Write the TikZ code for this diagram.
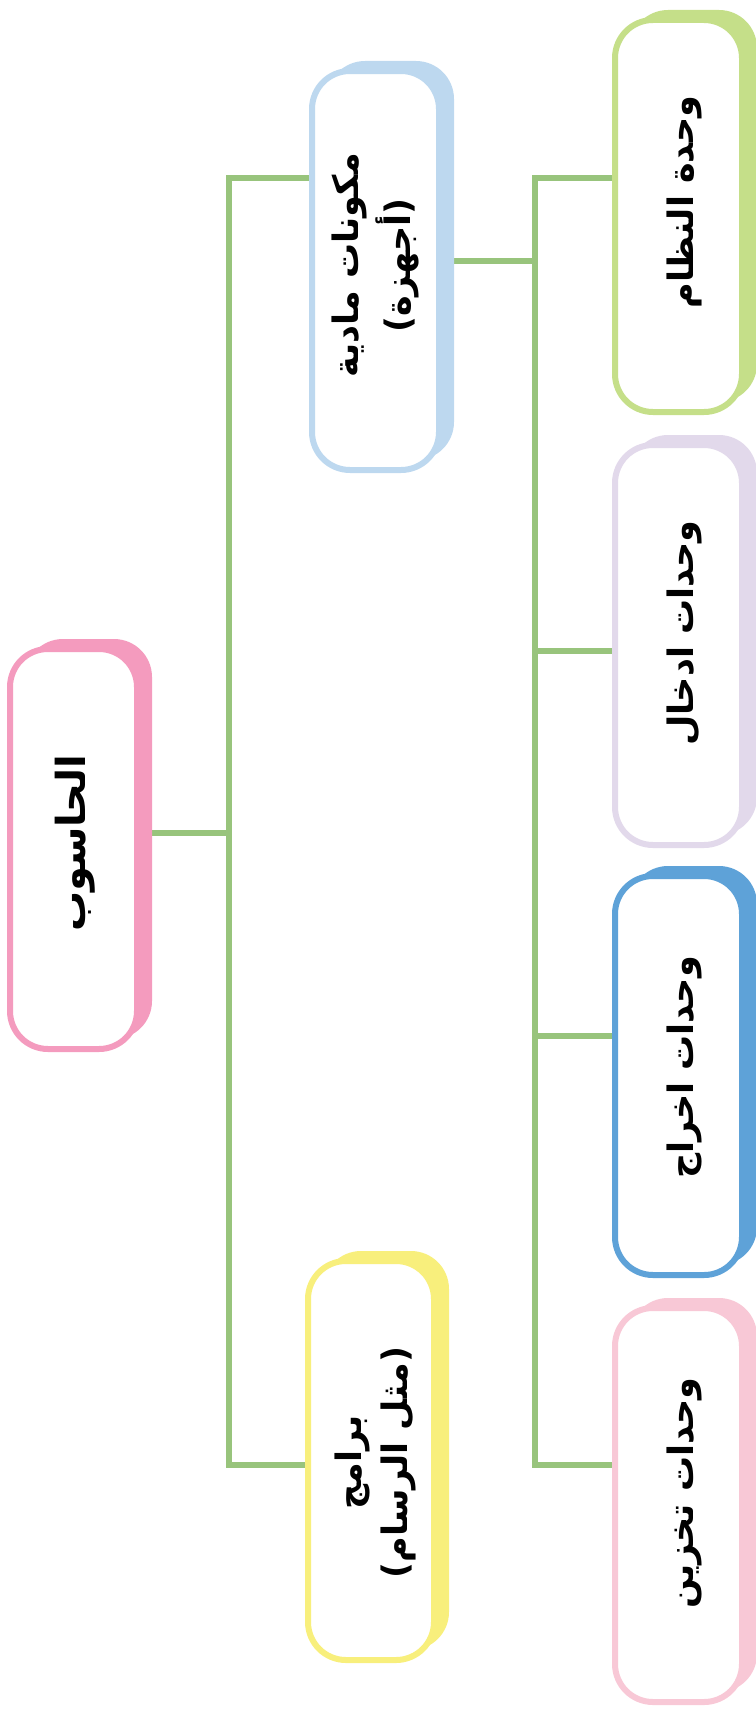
\documentclass[tikz,border=0pt]{standalone}
\usepackage{fontspec}
\newfontfamily\arabicfont[Script=Arabic]{DejaVu Sans}
\TeXXeTstate=1
\usetikzlibrary{calc,backgrounds}
\definecolor{rootc}{HTML}{F49BBE}
\definecolor{hwc}{HTML}{BDD8EF}
\definecolor{swc}{HTML}{F8EF7C}
\definecolor{sysc}{HTML}{C5DF89}
\definecolor{inpc}{HTML}{E2D9EB}
\definecolor{outc}{HTML}{5EA2D8}
\definecolor{stoc}{HTML}{F8C8D6}
\definecolor{connc}{HTML}{98C47C}
\begin{document}
\begin{tikzpicture}[x=1pt,y=-1pt,
  box/.style={draw=#1, line width=6pt, fill=white, rounded corners=38pt,
    inner sep=0pt, minimum width=127pt,
    preaction={fill=#1, transform canvas={xshift=15pt,yshift=10pt}}},
  lbl/.style={rotate=90, align=center, inner sep=0pt,
    font=\arabicfont\bfseries\fontsize{35}{52}\selectfont},
  conn/.style={draw=connc, line width=6pt, line join=miter}]
\useasboundingbox (0,0) rectangle (755,1710);

% boxes
\node[box=rootc, minimum height=400pt] (root) at (73.5,849) {};
\node[box=hwc,   minimum height=399pt] (hw)   at (375.5,270.5) {};
\node[box=swc,   minimum height=399pt, minimum width=126pt] (sw) at (371,1460.5) {};
\node[box=sysc,  minimum height=392pt] (sys)  at (678.5,216) {};
\node[box=inpc,  minimum height=400pt] (inp)  at (678.5,645) {};
\node[box=outc,  minimum height=399pt] (out)  at (678.5,1075.5) {};
\node[box=stoc,  minimum height=394pt] (sto)  at (678.5,1505) {};

% labels
\node[lbl, font=\arabicfont\bfseries\fontsize{40}{52}\selectfont] (troot) at ($(root.center)+(2,-6)$) {\beginR الحاسوب\endR};
\node[lbl] (thw)   at ($(hw.center)+(0,-5)$) {\beginR مكونات مادية\endR\\\beginR (أجهزة)\endR};
\node[lbl, font=\arabicfont\bfseries\fontsize{35}{46}\selectfont] (tsw) at ($(sw.center)+(4,2)$) {\beginR برامج\endR\\\beginR (مثل الرسام)\endR};
\node[lbl] (tsys)  at ($(sys.center)+(6,-14)$) {\beginR وحدة النظام\endR};
\node[lbl] (tinp)  at ($(inp.center)+(6,-12)$) {\beginR وحدات ادخال\endR};
\node[lbl] (tout)  at ($(out.center)+(6,-8)$) {\beginR وحدات اخراج\endR};
\node[lbl] (tsto)  at ($(sto.center)+(6,-12)$) {\beginR وحدات تخزين\endR};

% junction points
\coordinate (ja)  at (229,833);
\coordinate (s1t) at (229,178);
\coordinate (s1b) at (229,1465);
\coordinate (jb)  at (535,260.5);
\coordinate (s2t) at (535,178);
\coordinate (s2b) at (535,1465);
\coordinate (ji)  at (535,651);
\coordinate (jo)  at (535,1036);

\begin{scope}[on background layer]
\draw[conn] (root.center |- ja) -- (ja);
\draw[conn] (hw.center |- s1t) -- (s1t) -- (s1b) -- (sw.center |- s1b);
\draw[conn] (hw.center |- jb) -- (jb);
\draw[conn] (sys.center |- s2t) -- (s2t) -- (s2b) -- (sto.center |- s2b);
\draw[conn] (ji) -- (inp.center |- ji);
\draw[conn] (jo) -- (out.center |- jo);
\end{scope}
\end{tikzpicture}
\end{document}
